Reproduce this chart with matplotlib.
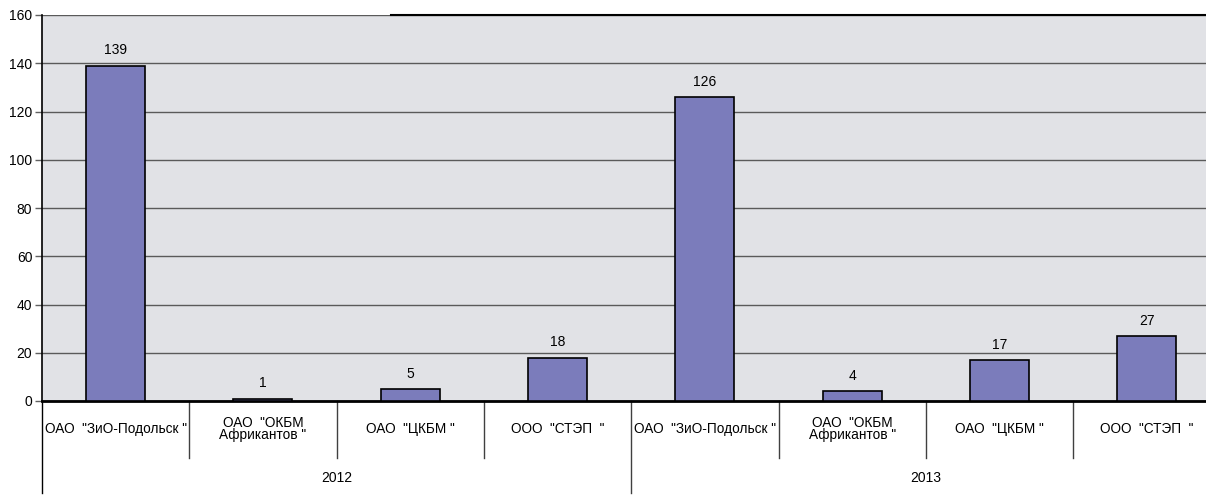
import matplotlib
matplotlib.use("Agg")
import matplotlib.pyplot as plt
import matplotlib.transforms as mtransforms

plt.rcParams['font.family'] = ['Liberation Sans', 'DejaVu Sans']

companies = ['ОАО  "ЗиО-Подольск "', 'ОАО  "ОКБМ\nАфрикантов "', 'ОАО  "ЦКБМ "', 'ООО  "СТЭП  "']
years = ['2012', '2013']
values_2012 = [139, 1, 5, 18]
values_2013 = [126, 4, 17, 27]

values = values_2012 + values_2013
labels = companies + companies
n = len(values)

W, H = 1206, 495
fig = plt.figure(figsize=(W / 100, H / 100), dpi=100)
left, right, top, bottom = 42, 1206, 15, 401
ax = fig.add_axes([left / W, (H - bottom) / H, (right - left) / W, (bottom - top) / H])
ax.set_facecolor('#e1e2e6')

cat_w = 147.3
xs = list(range(n))
ax.set_xlim(-0.5, -0.5 + (right - left) / cat_w)
ax.set_ylim(0, 160)
ax.set_yticks(range(0, 161, 20))
ax.yaxis.grid(True, color='#5a5a5a', linewidth=1.0)
ax.set_axisbelow(True)

ax.bar(xs, values, width=0.4, color='#7b7cbb', edgecolor='black', linewidth=1.2, zorder=3)
for x, v in zip(xs, values):
    ax.annotate(str(v), (x, v), xytext=(0, 6), textcoords='offset points',
                ha='center', va='bottom', fontsize=10)

for s in ['top', 'right']:
    ax.spines[s].set_visible(False)
ax.spines['left'].set_linewidth(1.2)
ax.spines['bottom'].set_linewidth(2.0)
ax.tick_params(axis='y', labelsize=10, length=5, width=1, pad=2, color='#606060')
ax.tick_params(axis='x', bottom=False, labelbottom=False)

# partial dark top line
ax.plot([1.87, 8.0], [160, 160], color='black', linewidth=1.5, clip_on=False, zorder=4)

trans = mtransforms.blended_transform_factory(ax.transData, ax.transAxes)
ax_h = bottom - top
def yfrac(py):
    return (bottom - py) / ax_h

# category separators
for i in range(n + 1):
    xb = i - 0.5
    if i % 4 == 0:
        y1 = yfrac(493)
        col = 'black' if i == 0 else '#404040'
    else:
        y1 = yfrac(458)
        col = '#404040'
    ax.plot([xb, xb], [0, y1], transform=trans, color=col, linewidth=1.0, clip_on=False)

for i, lab in enumerate(labels):
    ax.text(i, yfrac(429), lab, transform=trans, ha='center', va='center',
            fontsize=9.8, linespacing=0.9, clip_on=False)

for j, yr in enumerate(years):
    ax.text(j * 4 + 1.5, yfrac(478), yr, transform=trans, ha='center', va='center',
            fontsize=10, clip_on=False)

fig.savefig('out.png', dpi=100)
